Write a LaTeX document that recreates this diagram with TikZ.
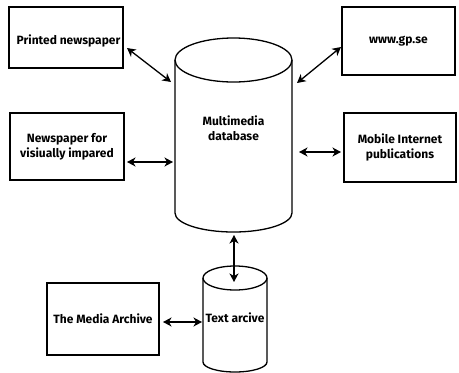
\documentclass[tikz,border=0pt]{standalone}
\usepackage{fontspec}
\setmainfont{Fira Sans}
\usetikzlibrary{arrows.meta}
\begin{document}
\begin{tikzpicture}[x=1pt,y=-1pt, line width=1.3pt,
  lbl/.style={font=\bfseries\fontsize{12}{15}\selectfont, align=center, inner sep=0pt},
  box/.style={lbl, draw, rectangle},
  tip/.style={Stealth[length=8.5pt,width=9pt,inset=2.5pt]},
  arr/.style={{Stealth[length=8.5pt,width=9pt,inset=2.5pt]}-{Stealth[length=8.5pt,width=9pt,inset=2.5pt]}, line width=1.3pt}]
\useasboundingbox (0,0) rectangle (459,373);
% boxes
\node[box, minimum width=114pt, minimum height=61pt] (pn) at (66,37.5) {};
\node[lbl] (pnt) at (68.5,41) {Printed newspaper};
\node[box, minimum width=114pt, minimum height=67pt] (nv) at (67,146.5) {Newspaper for\\visiually impared};
\node[box, minimum width=113pt, minimum height=68pt] (www) at (398.5,41) {www.gp.se};
\node[box, minimum width=112pt, minimum height=69pt] (mob) at (400,147.5) {Mobile Internet\\publications};
\node[box, minimum width=112pt, minimum height=72pt] (ma) at (103,319) {The Media Archive};
% main cylinder
\draw (233.5,60) ellipse [x radius=58.5pt, y radius=22pt];
\draw (175,60) -- (175,213) arc[start angle=180, end angle=360, x radius=58.5pt, y radius=19pt] -- (292,60);
\node[lbl] (mdb) at (233.5,128) {Multimedia\\database};
% text archive cylinder
\draw (235,278) ellipse [x radius=32pt, y radius=12pt];
\draw (203,278) -- (203,362) arc[start angle=180, end angle=360, x radius=32pt, y radius=10pt] -- (267,278);
\node[lbl] (ta) at (235,318) {Text arcive};
% connector end points
\coordinate (pnE) at (127,48);   \coordinate (mdbPN) at (171,82);
\coordinate (wwwW) at (341,47);  \coordinate (mdbWWW) at (297,83);
\coordinate (nvE) at (127,162);  \coordinate (mdbNV) at (173,162);
\coordinate (mdbMOB) at (299,152); \coordinate (mobW) at (341,152);
\coordinate (mdbS) at (234,235); \coordinate (taN) at (234,282);
\coordinate (maE) at (163,322);  \coordinate (taW) at (202,322);
\draw[arr] (pnE) -- (mdbPN);
\draw[arr] (wwwW) -- (mdbWWW);
\draw[arr] (nvE) -- (mdbNV);
\draw[arr] (mdbMOB) -- (mobW);
\draw[arr] (mdbS) -- (taN);
\draw[arr] (maE) -- (taW);
\end{tikzpicture}
\end{document}
